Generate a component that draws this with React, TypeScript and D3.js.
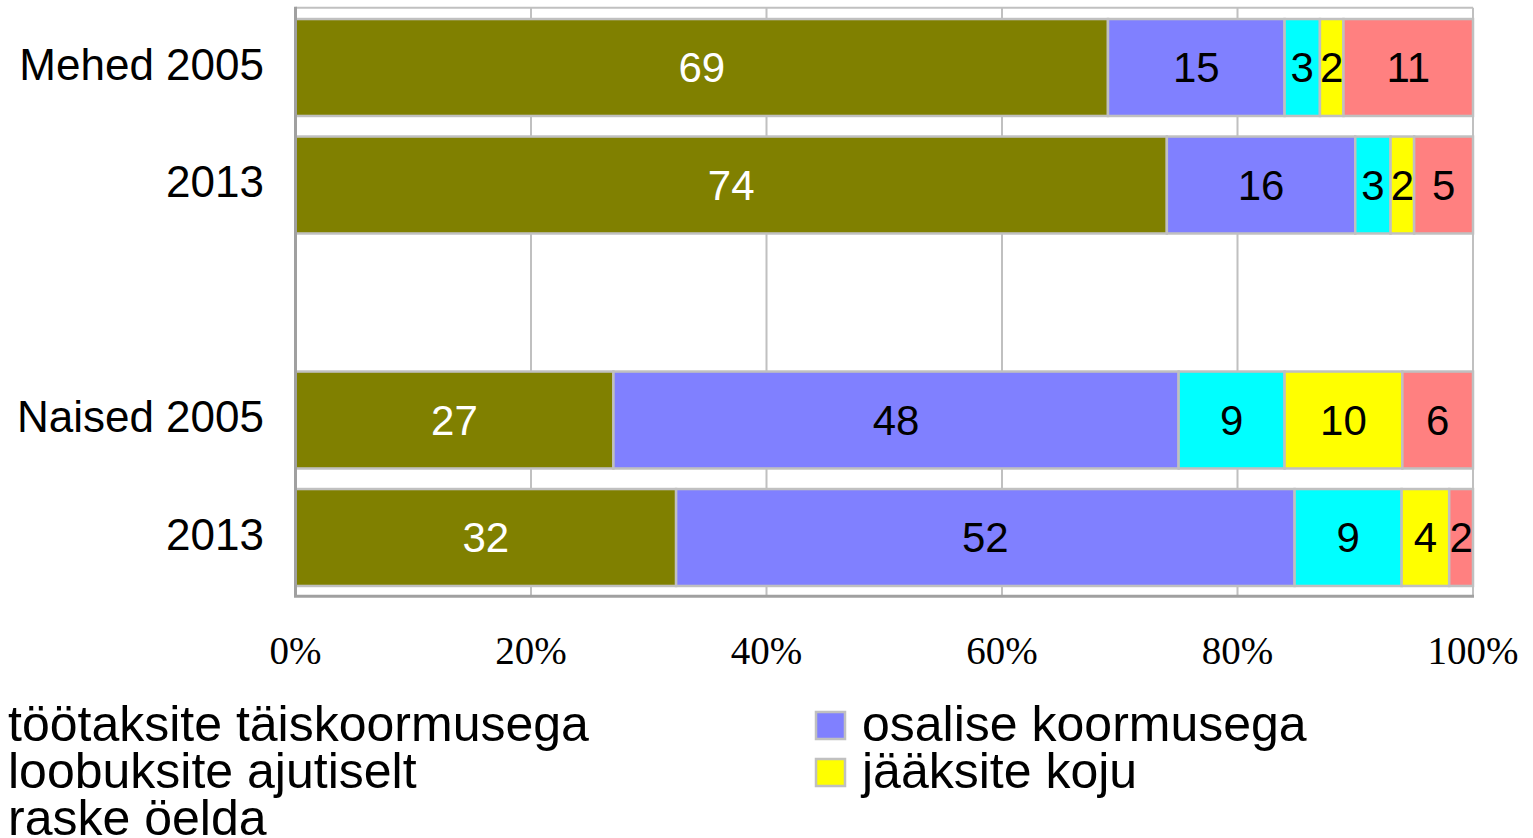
import React from "react";
import * as d3 from "d3";

const categories = ["Mehed 2005", "2013", "", "Naised 2005", "2013"];
const seriesNames = [
  "töötaksite täiskoormusega",
  "osalise koormusega",
  "loobuksite ajutiselt",
  "jääksite koju",
  "raske öelda",
];
const seriesColors = ["#808000", "#8080ff", "#00ffff", "#ffff00", "#ff8080"];
const labelColors = ["#ffffff", "#000000", "#000000", "#000000", "#000000"];
// values per category (null row = spacer)
const fullTime = [69, 74, null, 27, 32];
const partTime = [15, 16, null, 48, 52];
const temporarily = [3, 3, null, 9, 9];
const stayHome = [2, 2, null, 10, 4];
const hardToSay = [11, 5, null, 6, 2];
const ticks = [0, 0.2, 0.4, 0.6, 0.8, 1];

const W = 1533;
const H = 838;
const left = 295.5;
const right = 1473;
const top = 8.75;
const bottom = 596.25;

export default function App() {
  const x = d3.scaleLinear().domain([0, 1]).range([left, right]);
  const y = d3
    .scaleBand<number>()
    .domain(categories.map((_, i) => i))
    .range([top, bottom])
    .paddingInner(0.175)
    .paddingOuter(0.0875);

  const series = [fullTime, partTime, temporarily, stayHome, hardToSay];
  const rows = categories.map((c, i) => {
    const o: any = { idx: i };
    series.forEach((s, k) => (o["s" + k] = s[i] ?? 0));
    return o;
  });
  const keys = series.map((_, k) => "s" + k);
  const stacked = d3.stack().keys(keys).offset(d3.stackOffsetExpand)(rows);

  const font = "'Liberation Sans', Arial, sans-serif";
  const serif = "'Liberation Serif', 'Times New Roman', serif";

  return (
    <svg
      width={W}
      height={H}
      style={{ position: "absolute", left: 0, top: 0, background: "#fff" }}
    >
      {/* gridlines */}
      {ticks.slice(1).map((t) => (
        <line
          key={"g" + t}
          x1={x(t)}
          x2={x(t)}
          y1={top - 1}
          y2={bottom}
          stroke="#c0c0c0"
          strokeWidth={2}
        />
      ))}
      <line x1={left} x2={right} y1={top - 1} y2={top - 1} stroke="#c0c0c0" strokeWidth={2} />
      {/* bars */}
      {stacked.map((layer, k) =>
        layer.map((d, i) => {
          if (series[k][i] == null) return null;
          const x0 = x(d[0]);
          const x1 = x(d[1]);
          const yy = y(i)!;
          const bh = y.bandwidth();
          return (
            <g key={k + "-" + i}>
              <rect
                x={x0}
                y={yy}
                width={x1 - x0}
                height={bh}
                fill={seriesColors[k]}
                stroke="#c0c0c0"
                strokeWidth={2.5}
              />
              <text
                x={(x0 + x1) / 2}
                y={yy + bh / 2 + 14.5}
                textAnchor="middle"
                fontFamily={font}
                fontSize={42}
                fill={labelColors[k]}
              >
                {series[k][i]}
              </text>
            </g>
          );
        })
      )}
      {/* axes */}
      <line x1={left} x2={left} y1={top - 2} y2={bottom + 0.5} stroke="#a0a0a0" strokeWidth={3} />
      <line x1={left - 1.5} x2={right + 1} y1={bottom} y2={bottom} stroke="#a0a0a0" strokeWidth={3} />
      {/* category labels */}
      {categories.map((c, i) =>
        c ? (
          <text
            key={"c" + i}
            x={264}
            y={y(i)! + y.bandwidth() / 2 + 12}
            textAnchor="end"
            fontFamily={font}
            fontSize={44}
            fill="#000"
          >
            {c}
          </text>
        ) : null
      )}
      {/* tick labels */}
      {ticks.map((t) => (
        <text
          key={"t" + t}
          x={x(t)}
          y={664}
          textAnchor="middle"
          fontFamily={serif}
          fontSize={39}
          fill="#000"
        >
          {d3.format(".0%")(t)}
        </text>
      ))}
      {/* legend */}
      {seriesNames.map((n, k) => {
        const col = k % 2;
        const row = Math.floor(k / 2);
        const tx = col === 0 ? 8 : 862;
        const by = 741 + row * 47;
        return (
          <g key={"l" + k}>
            <rect
              x={tx - 46}
              y={by - 29}
              width={29}
              height={27}
              fill={seriesColors[k]}
              stroke="#c0c0c0"
              strokeWidth={2.5}
            />
            <text x={tx} y={by} fontFamily={font} fontSize={50} fill="#000">
              {n}
            </text>
          </g>
        );
      })}
    </svg>
  );
}
